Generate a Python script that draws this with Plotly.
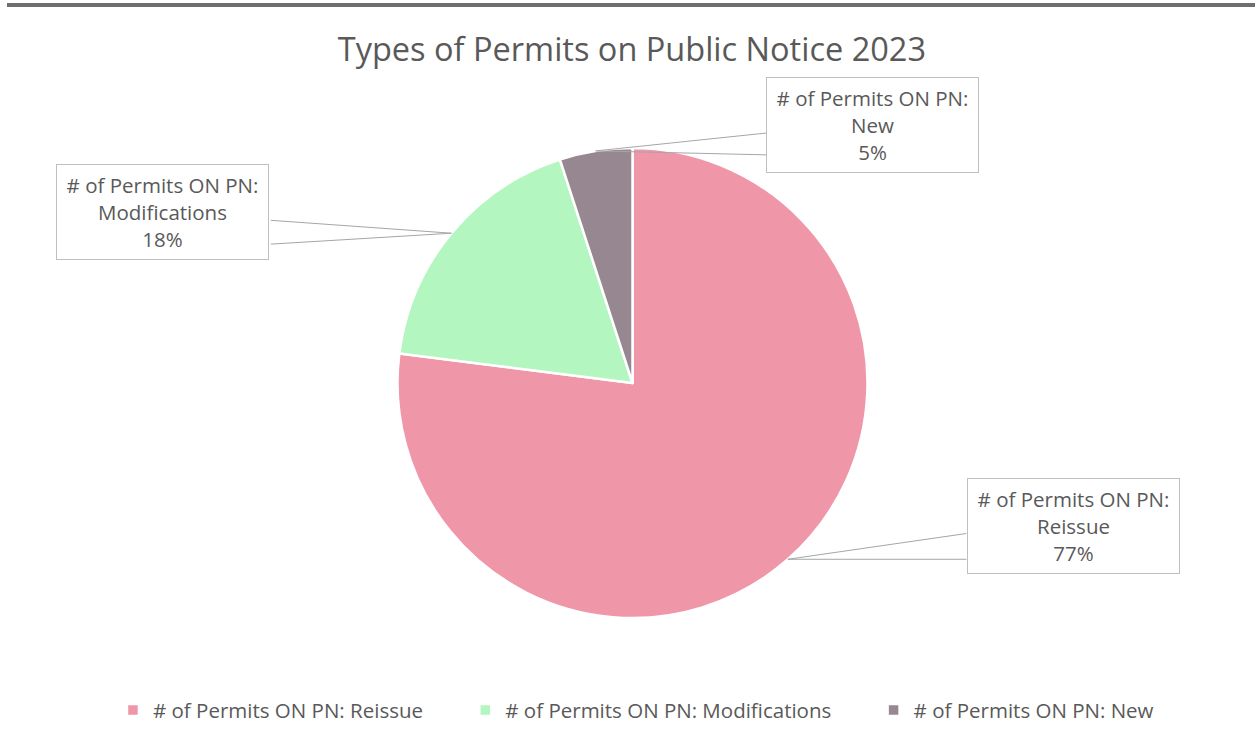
import math
import plotly.graph_objects as go

# ---- data ----
categories = ["# of Permits ON PN: Reissue",
              "# of Permits ON PN: Modifications",
              "# of Permits ON PN: New"]
short_names = ["Reissue", "Modifications", "New"]
values = [77, 18, 5]
colors = ["#F096A9", "#B3F6C0", "#968790"]
title_text = "Types of Permits on Public Notice 2023"

# ---- layout geometry ----
W, H = 1255, 742
M_L, M_R, M_T, M_B = 10, 0, 148, 124
plot_w = W - M_L - M_R
plot_h = H - M_T - M_B
radius_px = min(plot_w, plot_h) / 2

# label box centre offsets (pixels) from slice edge midpoint
box_offsets = [(286, -33), (-289, -21), (277, -26)]
# callout wedge start offsets (pixels) on the box edge, two per label
wedge_offsets = [[(180, -26), (180, 0)],
                 [(-182, -13), (-182, 11)],
                 [(172, -18), (172, 4)]]

FONT = "Open Sans"
GRAY = "#595959"
LINE = "#A6A6A6"
NBSP = "\u00a0"
legend_pad = [NBSP * 7, NBSP * 7, ""]
legend_labels = [c + p for c, p in zip(categories, legend_pad)]

fig = go.Figure(go.Pie(
    labels=legend_labels,
    values=values,
    customdata=categories,
    sort=False,
    direction="clockwise",
    rotation=0,
    marker=dict(colors=colors, line=dict(color="white", width=2.5)),
    textinfo="none",
    hovertemplate="%{customdata}<br>%{percent}<extra></extra>",
    domain=dict(x=[0, 1], y=[0, 1]),
))

total = sum(values)
annotations = []
cum = 0
for name, v, (axo, ayo), wedges in zip(short_names, values, box_offsets, wedge_offsets):
    mid = (cum + v / 2) / total * 2 * math.pi
    cum += v
    px = 0.5 + radius_px * math.sin(mid) / plot_w
    py = 0.5 + radius_px * math.cos(mid) / plot_h
    pct = round(100 * v / total)
    for wx, wy in wedges:
        annotations.append(dict(
            x=px, y=py, xref="paper", yref="paper", text=" ",
            font=dict(size=1), showarrow=True, arrowhead=0, arrowwidth=1,
            arrowcolor=LINE, ax=wx, ay=wy, standoff=0, startstandoff=0,
        ))
    annotations.append(dict(
        x=px, y=py, xref="paper", yref="paper",
        text=f"# of Permits ON PN:<br>{name}<br>{pct}%",
        showarrow=True, arrowhead=0, arrowwidth=0.1, arrowcolor="rgba(0,0,0,0)",
        ax=axo, ay=ayo,
        font=dict(family=FONT, size=20.5, color=GRAY),
        align="center",
        bgcolor="white", bordercolor="#BFBFBF", borderwidth=1,
        width=203, height=86, borderpad=4,
    ))

fig.update_layout(
    width=W, height=H,
    margin=dict(l=M_L, r=M_R, t=M_T, b=M_B),
    paper_bgcolor="white",
    title=dict(text=title_text, x=0.5035, xanchor="center", y=0.9326, yanchor="middle",
               font=dict(family=FONT, size=32.5, color=GRAY)),
    legend=dict(orientation="h", x=0.0827, xanchor="left", y=-0.196, yanchor="middle",
                font=dict(family=FONT, size=20.5, color=GRAY), traceorder="normal"),
    annotations=annotations,
    shapes=[dict(type="line", xref="paper", yref="paper",
                 x0=-0.0024, x1=1.0, y0=1.304, y1=1.304,
                 line=dict(color="#6E6E6E", width=4))],
)

fig.write_html("out.html", config={"displayModeBar": False},
               post_script="document.body.style.margin='0px';document.body.style.padding='0px';")
